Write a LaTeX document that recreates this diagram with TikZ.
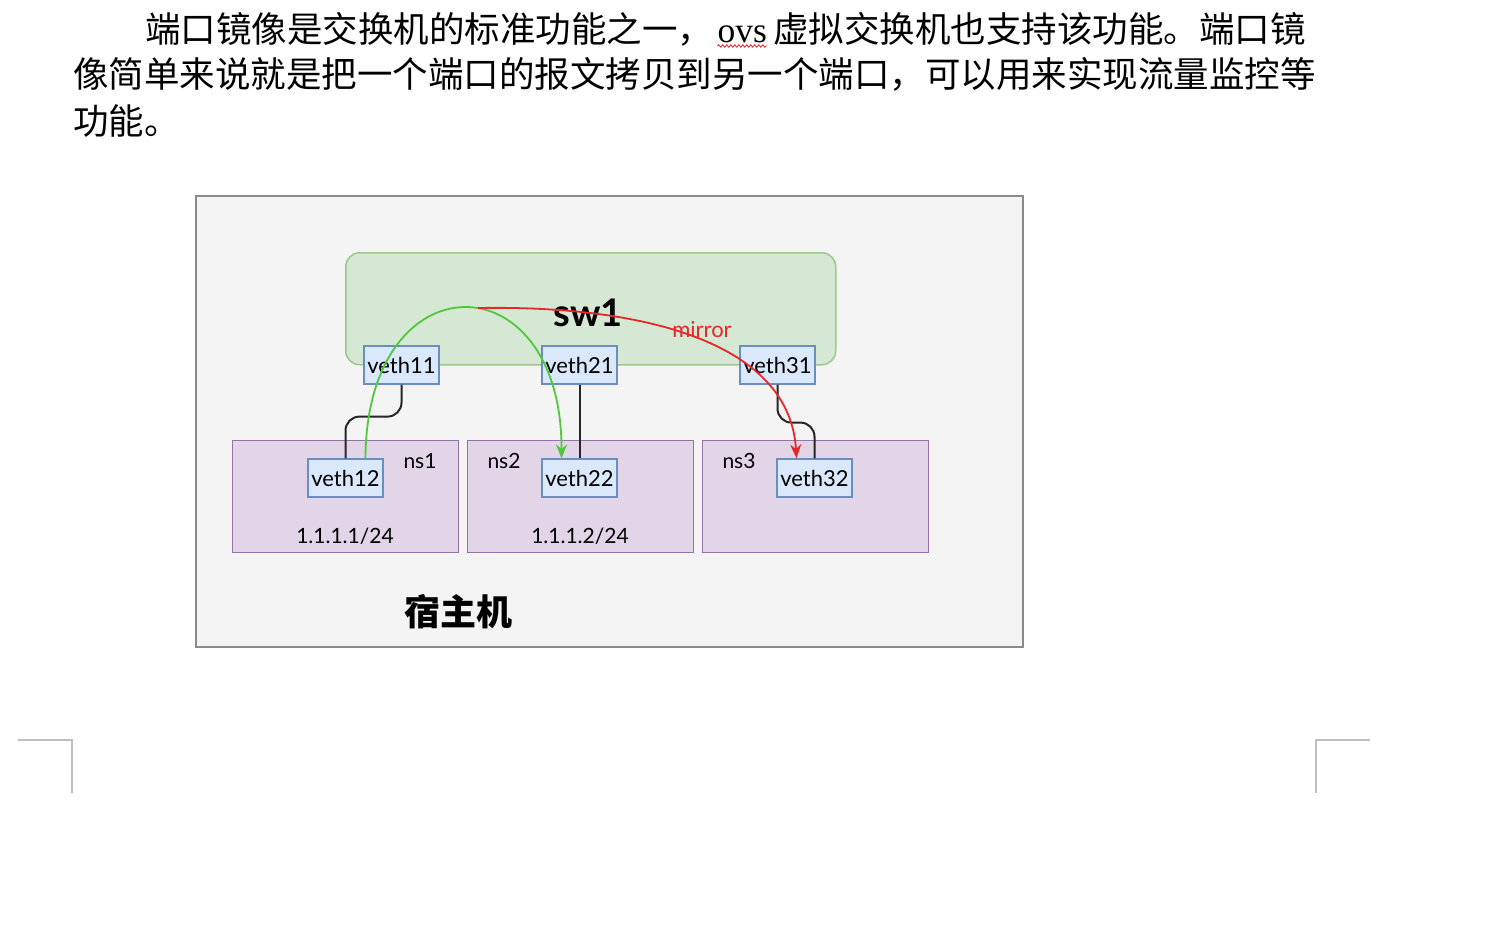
\documentclass[tikz,border=0pt]{standalone}
\usepackage{fontspec}
\setmainfont{Liberation Serif}
\newfontfamily\cjkfont{Noto Sans CJK SC}
\newfontfamily\labelfont{Lato}
\usetikzlibrary{positioning,arrows.meta,decorations.pathmorphing}

\definecolor{hostfill}{HTML}{F4F4F4}
\definecolor{hostline}{HTML}{8A8A8A}
\definecolor{swfill}{HTML}{D5E8D4}
\definecolor{swline}{HTML}{9CC88A}
\definecolor{nsfill}{HTML}{E1D5E7}
\definecolor{nsline}{HTML}{9673A6}
\definecolor{vethfill}{HTML}{DAE8FC}
\definecolor{vethline}{HTML}{6C8EBF}
\definecolor{flowgreen}{RGB}{80,200,60}
\definecolor{flowred}{RGB}{230,40,40}

\tikzset{
  para/.style={anchor=base west, inner sep=0pt, font=\cjkfont\fontsize{35.5}{35.5}\selectfont},
  nsbox/.style={draw=nsline, fill=nsfill, line width=1.2pt, minimum width=226pt, minimum height=112pt, anchor=north west},
  vethbox/.style={draw=vethline, fill=vethfill, line width=1.2pt, minimum width=75pt, minimum height=38pt, inner sep=0pt, font=\labelfont\fontsize{22}{22}\selectfont},
  nslabel/.style={inner sep=0pt, font=\labelfont\fontsize{21}{21}\selectfont},
  link/.style={black!85, line width=2pt, rounded corners=14pt},
  flow/.style={line width=1.8pt, -{Stealth[length=14pt,width=11pt]}},
}

\begin{document}
\begin{tikzpicture}[x=1pt, y=-1pt]
            \useasboundingbox[fill=white] (0,0) rectangle (1488,932);

            % Paragraph
            \node[para] (line1a) at (145,42) {端口镜像是交换机的标准功能之一，};
            \node[para, font=\fontsize{35.5}{35.5}\selectfont] (ovs) at ([xshift=4pt]line1a.base east) {ovs};
            \node[para] (line1b) at ([xshift=6pt]ovs.base east) {虚拟交换机也支持该功能。端口镜};
            \draw[flowred, line width=0.8pt, decorate, decoration={snake, amplitude=1.2pt, segment length=4pt}] ([yshift=-4pt]ovs.base west) -- ([yshift=-4pt]ovs.base east);
            \node[para] (line2) at (73,87) {像简单来说就是把一个端口的报文拷贝到另一个端口，可以用来实现流量监控等};
            \node[para] (line3) at (73,134) {功能。};

            % Host
            \node[draw=hostline, fill=hostfill, line width=1.5pt, minimum width=827pt, minimum height=451pt, anchor=north west] (host) at (195,195) {};
            \node[font=\cjkfont\bfseries\fontsize{36}{36}\selectfont, inner sep=0pt] (hostlabel) at (458,612) {宿主机};

            % Switch
            \node[draw=swline, fill=swfill, rounded corners=14pt, line width=1.5pt, minimum width=490pt, minimum height=112pt, anchor=north west] (sw) at (345,252) {};
            \node[font=\labelfont\bfseries\fontsize{38}{38}\selectfont, inner sep=0pt] (swlabel) at (588,313) {sw1};

            % Namespaces
            \node[nsbox] (ns1) at (232,440) {};
            \node[nsbox] (ns2) at (467,440) {};
            \node[nsbox] (ns3) at (702,440) {};
            \node[nslabel] (ns1label) at (420,461) {ns1};
            \node[nslabel] (ns2label) at (504,461) {ns2};
            \node[nslabel] (ns3label) at (739,461) {ns3};
            \node[nslabel] (ip1) at (345,536) {1.1.1.1/24};
            \node[nslabel] (ip2) at (580,536) {1.1.1.2/24};

            % Veth pairs
            \node[vethbox] (veth11) at (401.5,365) {veth11};
            \node[vethbox] (veth21) at (579.5,365) {veth21};
            \node[vethbox] (veth31) at (777.5,365) {veth31};
            \node[vethbox] (veth12) at (345.5,478) {veth12};
            \node[vethbox] (veth22) at (579.5,478) {veth22};
            \node[vethbox] (veth32) at (814.5,478) {veth32};

            \draw[link] (veth11.south) -- ++(0,32) -| (veth12.north);
            \draw[link] (veth21.south) -- (veth22.north);
            \draw[link] (veth31.south) -- ++(0,38) -| (veth32.north);

            % Traffic
            \draw[flow, flowgreen] ([xshift=20pt]veth12.north) .. controls (366,258) and (562,258) .. ([xshift=-18pt]veth22.north);
            \coordinate (mirrorstart) at (478,308);
            \draw[flow, flowred] (mirrorstart) .. controls (650,305) and (790,345) .. ([xshift=-18pt]veth32.north);
            \node[flowred, font=\labelfont\fontsize{22}{22}\selectfont, inner sep=0pt] (mirrorlabel) at (702,330) {mirror};

            % Page corners
            \draw[gray!50, line width=1.2pt] (18,740) -- (72,740) -- (72,793);
            \draw[gray!50, line width=1.2pt] (1370,740) -- (1316,740) -- (1316,793);
        \end{tikzpicture}
\end{document}
